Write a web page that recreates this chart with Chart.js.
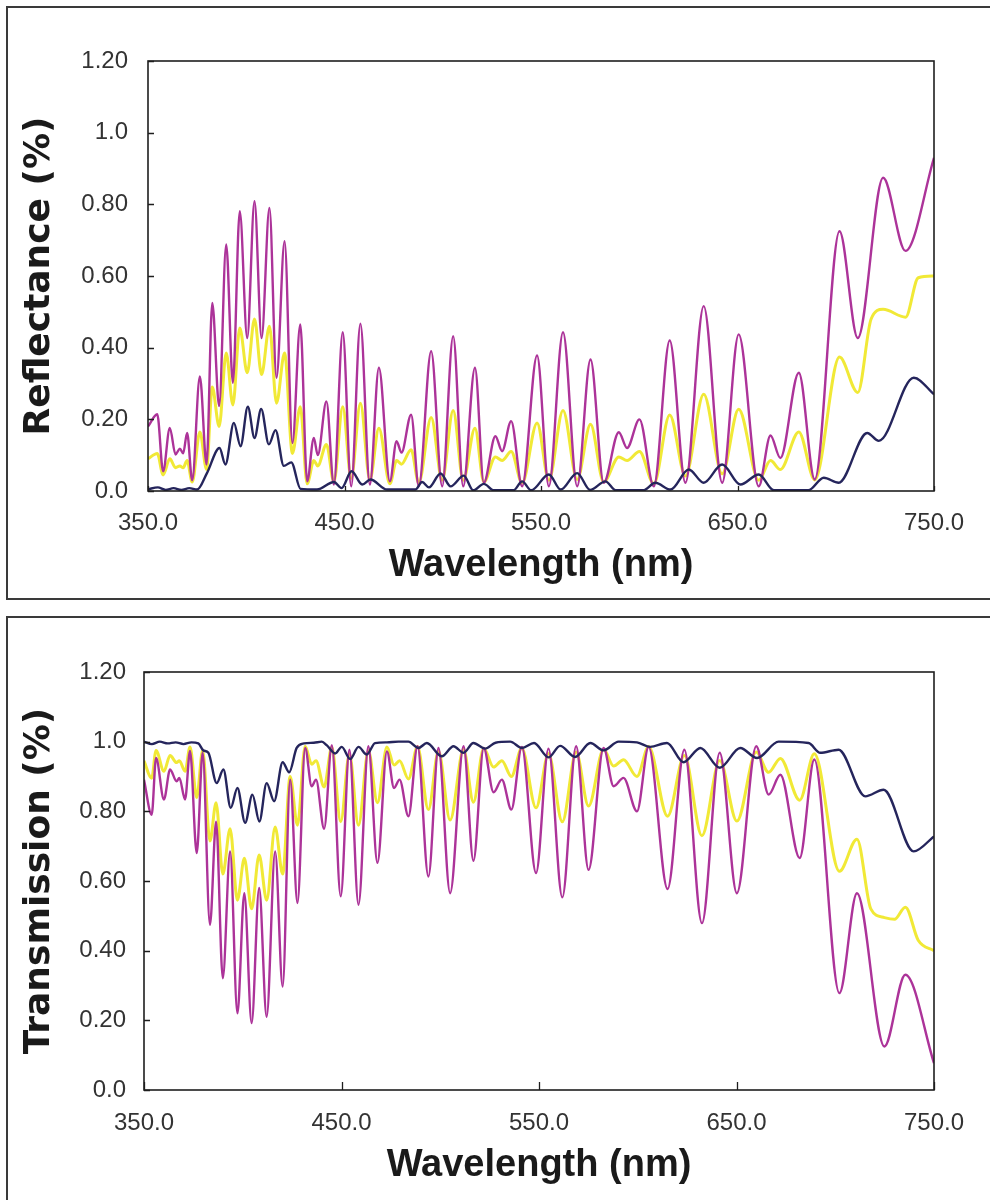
<!DOCTYPE html>
<html>
<head>
<meta charset="utf-8">
<script src="https://cdn.jsdelivr.net/npm/chart.js@4.4.1/dist/chart.umd.min.js"></script>
<style>
  html, body { margin: 0; padding: 0; background: #fff; }
  body { width: 990px; height: 1200px; position: relative; overflow: hidden; }
  .panel { position: absolute; left: 6px; width: 1000px; border: 2px solid #3a3a3a; box-sizing: border-box; }
  #panelR { top: 6px; height: 594px; }
  #panelT { top: 616px; height: 600px; }
  canvas { position: absolute; left: 0; }
  #chartR { top: 0; }
  #chartT { top: 610px; }
</style>
</head>
<body>
<div class="panel" id="panelR"></div>
<div class="panel" id="panelT"></div>
<canvas id="chartR" width="990" height="600"></canvas>
<canvas id="chartT" width="990" height="590"></canvas>
<script>
// ---- Tick labels ----
const X_TICK_LABELS = ['350.0', '450.0', '550.0', '650.0', '750.0'];
const Y_TICK_LABELS = ['0.0', '0.20', '0.40', '0.60', '0.80', '1.0', '1.20'];

// ---- Reflectance: wavelength (nm) and value per series ----
const R_NM_MAGENTA = [350, 354.7, 357.7, 361.1, 364.0, 366.2, 367.9, 369.9, 372.5, 376.4, 379.8, 382.7, 386.2, 389.8, 393.2, 396.7, 400.5, 404.2, 407.8, 411.8, 415.4, 419.5, 423.5, 427.5, 431.0, 434.4, 436.4, 440.8, 444.6, 449.1, 453.4, 458.1, 462.9, 467.5, 473.1, 476.5, 479.0, 483.9, 487.8, 494.1, 499.7, 505.3, 510.4, 516.4, 520.9, 526.8, 530.2, 534.8, 540.4, 548.0, 554.0, 561.2, 568.4, 575.2, 581.9, 589.6, 593.8, 600.1, 607.4, 615.5, 623.5, 632.8, 642.2, 650.6, 660.8, 666.8, 671.8, 681.2, 689.3, 701.9, 711.2, 724.1, 735.5, 750];
const R_MAGENTA = [0.18, 0.214, 0.055, 0.176, 0.102, 0.118, 0.105, 0.162, 0.03, 0.32, 0.074, 0.525, 0.237, 0.688, 0.302, 0.781, 0.427, 0.809, 0.427, 0.79, 0.316, 0.697, 0.134, 0.465, 0.027, 0.148, 0.10, 0.25, 0.018, 0.443, 0.013, 0.467, 0.018, 0.344, 0.027, 0.139, 0.107, 0.213, 0.013, 0.39, 0.013, 0.432, 0.013, 0.344, 0.023, 0.153, 0.111, 0.195, 0.013, 0.378, 0.013, 0.443, 0.013, 0.367, 0.023, 0.164, 0.12, 0.20, 0.013, 0.42, 0.023, 0.516, 0.023, 0.437, 0.013, 0.155, 0.092, 0.33, 0.032, 0.725, 0.427, 0.874, 0.67, 0.93];

const R_NM_YELLOW = [350, 354.7, 357.7, 361.1, 364.0, 366.2, 367.9, 369.9, 372.5, 376.4, 379.8, 382.7, 386.2, 389.8, 393.2, 396.7, 400.5, 404.2, 407.8, 411.8, 415.4, 419.5, 423.5, 427.5, 431.0, 434.4, 436.4, 440.8, 444.6, 449.1, 453.4, 458.1, 462.9, 467.5, 473.1, 476.5, 479.0, 483.9, 487.8, 494.1, 499.7, 505.3, 510.4, 516.4, 520.9, 526.8, 530.2, 534.8, 540.4, 548.0, 554.0, 561.2, 568.4, 575.2, 581.9, 589.6, 593.8, 600.1, 607.4, 615.5, 623.5, 632.8, 642.2, 650.6, 660.8, 666.8, 671.8, 681.2, 689.3, 701.9, 711.2, 718, 724.1, 735.5, 742, 750];
const R_YELLOW = [0.09, 0.105, 0.045, 0.09, 0.065, 0.07, 0.065, 0.085, 0.025, 0.165, 0.06, 0.29, 0.18, 0.385, 0.24, 0.455, 0.33, 0.48, 0.325, 0.46, 0.245, 0.385, 0.105, 0.235, 0.02, 0.085, 0.07, 0.13, 0.025, 0.235, 0.035, 0.245, 0.03, 0.175, 0.02, 0.085, 0.075, 0.115, 0.022, 0.205, 0.03, 0.225, 0.03, 0.175, 0.025, 0.095, 0.085, 0.11, 0.022, 0.19, 0.03, 0.225, 0.032, 0.186, 0.025, 0.095, 0.085, 0.11, 0.02, 0.212, 0.042, 0.27, 0.048, 0.228, 0.03, 0.085, 0.06, 0.165, 0.031, 0.374, 0.275, 0.48, 0.507, 0.485, 0.595, 0.60];

const R_NM_NAVY = [350, 355, 359, 363, 367, 371, 375, 380, 386.4, 389.4, 393.7, 397.1, 400.8, 404.2, 407.6, 411.5, 414.9, 419.1, 422.9, 427.6, 436, 444.6, 448.5, 453.6, 459, 463.2, 471.7, 486, 489.5, 493, 498.9, 504, 510.7, 515.5, 520.9, 526, 536, 540.4, 545, 554, 560, 568.4, 575, 582.8, 588, 602, 608.2, 615.9, 625.2, 632.8, 642.2, 651.5, 660.8, 668.5, 686, 693.9, 701.5, 716, 721.9, 739.7, 750];
const R_NAVY = [0.005, 0.01, 0.003, 0.008, 0.003, 0.008, 0.004, 0.05, 0.12, 0.074, 0.19, 0.125, 0.235, 0.148, 0.229, 0.13, 0.17, 0.07, 0.08, 0.006, 0.004, 0.025, 0.008, 0.055, 0.018, 0.032, 0.004, 0.004, 0.025, 0.01, 0.049, 0.013, 0.043, 0.002, 0.02, 0.002, 0.002, 0.027, 0.002, 0.046, 0.004, 0.05, 0.003, 0.027, 0.002, 0.002, 0.023, 0.004, 0.06, 0.023, 0.074, 0.018, 0.046, 0.002, 0.002, 0.037, 0.023, 0.162, 0.14, 0.316, 0.27];

// ---- Transmission: wavelength (nm) and value per series ----
const T_NM_MAGENTA = [350, 353.9, 356.1, 360.1, 363.2, 366.5, 367.9, 370.8, 373.3, 376.7, 379.7, 383.4, 386.5, 389.9, 393.6, 397.3, 400.8, 404.5, 408.3, 412.1, 416.4, 420.2, 424.0, 427.7, 431.6, 434.9, 437.1, 441.2, 445.1, 449.6, 454.0, 458.6, 463.6, 468.2, 473.0, 476.6, 479.4, 483.9, 488.5, 494.0, 499.1, 505.0, 511.8, 516.8, 522.0, 527.0, 531.2, 536.0, 541.3, 548.5, 554.8, 561.8, 568.8, 575.1, 582.7, 587.8, 592.8, 599.6, 605.5, 615.1, 623.6, 632.5, 641.5, 650.2, 660.0, 666.3, 672.2, 682.0, 689.4, 702.1, 711.0, 724.9, 735.5, 750];
const T_MAGENTA = [0.891, 0.79, 0.953, 0.834, 0.92, 0.886, 0.896, 0.834, 0.973, 0.68, 0.968, 0.474, 0.77, 0.321, 0.685, 0.22, 0.565, 0.192, 0.58, 0.21, 0.685, 0.297, 0.891, 0.537, 0.982, 0.872, 0.891, 0.75, 0.99, 0.556, 0.977, 0.532, 0.987, 0.652, 0.972, 0.867, 0.891, 0.786, 0.987, 0.613, 0.982, 0.565, 0.987, 0.658, 0.982, 0.855, 0.891, 0.805, 0.985, 0.623, 0.98, 0.553, 0.987, 0.632, 0.982, 0.872, 0.896, 0.80, 0.985, 0.577, 0.977, 0.479, 0.968, 0.565, 0.987, 0.848, 0.905, 0.666, 0.949, 0.278, 0.565, 0.125, 0.331, 0.077];

const T_NM_YELLOW = [350, 353.9, 356.1, 360.1, 363.2, 366.5, 367.9, 370.8, 373.3, 376.7, 379.7, 383.4, 386.5, 389.9, 393.6, 397.3, 400.8, 404.5, 408.3, 412.1, 416.4, 420.2, 424.0, 427.7, 431.6, 434.9, 437.1, 441.2, 445.1, 449.6, 454.0, 458.6, 463.6, 468.2, 473.0, 476.6, 479.4, 483.9, 488.5, 494.0, 499.1, 505.0, 511.8, 516.8, 522.0, 527.0, 531.2, 536.0, 541.3, 548.5, 554.8, 561.8, 568.8, 575.1, 582.7, 587.8, 592.8, 599.6, 605.5, 615.1, 623.6, 632.5, 641.5, 650.2, 660.0, 666.3, 672.2, 682.0, 689.4, 702.1, 711.0, 718, 724.9, 730, 735.5, 742, 750];
const T_YELLOW = [0.945, 0.895, 0.975, 0.915, 0.96, 0.94, 0.945, 0.915, 0.985, 0.84, 0.975, 0.715, 0.825, 0.62, 0.75, 0.545, 0.665, 0.52, 0.675, 0.545, 0.755, 0.62, 0.90, 0.76, 0.987, 0.935, 0.945, 0.87, 0.985, 0.77, 0.965, 0.76, 0.975, 0.825, 0.985, 0.933, 0.945, 0.893, 0.986, 0.805, 0.973, 0.775, 0.978, 0.826, 0.981, 0.927, 0.945, 0.90, 0.982, 0.81, 0.966, 0.77, 0.97, 0.815, 0.978, 0.93, 0.948, 0.90, 0.986, 0.786, 0.96, 0.73, 0.946, 0.772, 0.97, 0.912, 0.952, 0.832, 0.965, 0.628, 0.72, 0.52, 0.495, 0.49, 0.525, 0.43, 0.40];

const T_NM_NAVY = [350, 354, 358, 362, 366, 370, 374, 377.5, 380, 382.6, 386.8, 390.2, 393.9, 397.3, 401.2, 404.9, 408.4, 412.1, 415.9, 420.2, 423.5, 427.3, 431, 436, 440, 442.5, 446.8, 450.1, 454.4, 458.6, 462.8, 467, 473, 478.8, 483.9, 489, 493.2, 500.8, 506.7, 511.8, 516.8, 522.7, 528, 535.4, 541.3, 547.5, 554.8, 560.7, 568.3, 576, 582.7, 590.3, 599.6, 606.3, 614.8, 623.2, 631.7, 641.5, 651.9, 660.4, 671.3, 686.5, 692.4, 701.7, 715.2, 724.5, 739.7, 750];
const T_NAVY = [1.0, 0.993, 1.0, 0.995, 0.998, 0.993, 0.998, 0.995, 0.975, 0.968, 0.881, 0.92, 0.81, 0.867, 0.767, 0.848, 0.771, 0.881, 0.829, 0.941, 0.912, 0.982, 0.995, 0.997, 1.0, 0.99, 0.966, 0.985, 0.95, 0.985, 0.963, 0.996, 0.998, 1.0, 1.0, 0.982, 0.996, 0.958, 0.987, 0.968, 0.996, 0.98, 0.997, 1.0, 0.982, 0.996, 0.955, 0.988, 0.956, 0.996, 0.975, 1.0, 0.998, 0.985, 0.996, 0.941, 0.982, 0.925, 0.982, 0.953, 1.0, 0.996, 0.968, 0.977, 0.843, 0.862, 0.685, 0.728];

// ---- Styling ----
const COLOR_MAGENTA = '#ac3399';
const COLOR_YELLOW = '#f1e936';
const COLOR_NAVY = '#25255c';
const TICK_FONT = { family: "'Liberation Sans', Arial, sans-serif", size: 24 };

const toPoints = (xs, ys) => xs.map((x, i) => ({ x, y: ys[i] }));

// Plot frame plus short inward tick marks on the left and bottom axes.
const frameTicks = {
  id: 'frameTicks',
  afterDatasetsDraw(chart, args, opts) {
    const { ctx, chartArea: a, scales: { x, y } } = chart;
    ctx.save();
    ctx.strokeStyle = '#1e1e1e';
    ctx.lineWidth = 1.6;
    ctx.strokeRect(a.left, a.top, a.right - a.left, a.bottom - a.top);
    ctx.beginPath();
    y.ticks.forEach(t => {
      const py = Math.round(y.getPixelForValue(t.value)) + 0.5;
      ctx.moveTo(a.left, py); ctx.lineTo(a.left + opts.yLen, py);
    });
    x.ticks.forEach(t => {
      const px = Math.round(x.getPixelForValue(t.value)) + 0.5;
      ctx.moveTo(px, a.bottom); ctx.lineTo(px, a.bottom - opts.xLen);
    });
    ctx.lineWidth = 1.3;
    ctx.stroke();
    ctx.restore();
  }
};

function buildChart(canvasId, cfg) {
  const line = (data, color, width) => ({
    data, borderColor: color, borderWidth: width, pointRadius: 0,
    cubicInterpolationMode: 'monotone', fill: false
  });
  return new Chart(document.getElementById(canvasId), {
    type: 'line',
    data: {
      datasets: [
        line(cfg.navy, COLOR_NAVY, 2.4),
        line(cfg.magenta, COLOR_MAGENTA, 2.4),
        line(cfg.yellow, COLOR_YELLOW, 3)
      ]
    },
    options: {
      responsive: false,
      animation: false,
      devicePixelRatio: 1,
      events: [],
      layout: { padding: { top: cfg.top, right: cfg.right, left: 0, bottom: 0 } },
      plugins: {
        legend: { display: false },
        tooltip: { enabled: false },
        frameTicks: { xLen: cfg.xTickLen, yLen: 6 }
      },
      scales: {
        x: {
          type: 'linear', min: 350, max: 750,
          grid: { display: false, drawTicks: false }, border: { display: false },
          ticks: {
            stepSize: 100, padding: cfg.xTickPad, color: '#333', font: TICK_FONT,
            callback: v => X_TICK_LABELS[Math.round((v - 350) / 100)]
          },
          title: {
            display: true, text: 'Wavelength (nm)', color: '#1a1a1a',
            font: { family: "'Liberation Sans', Arial, sans-serif", weight: 'bold', size: 38 },
            padding: { top: 0, bottom: 12 }
          },
          afterFit: s => { s.height = cfg.xAxisHeight; }
        },
        y: {
          min: 0, max: 1.2,
          grid: { display: false, drawTicks: false }, border: { display: false },
          ticks: {
            stepSize: 0.2, padding: cfg.yTickPad, color: '#333', font: TICK_FONT,
            callback: (v, i) => Y_TICK_LABELS[i]
          },
          title: {
            display: true, text: cfg.yTitle, color: '#1a1a1a',
            font: { family: "'DejaVu Sans', sans-serif", weight: 'bold', size: 36 },
            padding: { top: 18, bottom: 0 }
          },
          afterFit: s => { s.width = cfg.yAxisWidth; }
        }
      }
    },
    plugins: [frameTicks]
  });
}

buildChart('chartR', {
  yTitle: 'Reflectance (%)',
  magenta: toPoints(R_NM_MAGENTA, R_MAGENTA),
  yellow: toPoints(R_NM_YELLOW, R_YELLOW),
  navy: toPoints(R_NM_NAVY, R_NAVY),
  top: 61, right: 56, yAxisWidth: 148, xAxisHeight: 109,
  xTickPad: 18, yTickPad: 20, xTickLen: 5
});

buildChart('chartT', {
  yTitle: 'Transmission (%)',
  magenta: toPoints(T_NM_MAGENTA, T_MAGENTA),
  yellow: toPoints(T_NM_YELLOW, T_YELLOW),
  navy: toPoints(T_NM_NAVY, T_NAVY),
  top: 62, right: 56, yAxisWidth: 144, xAxisHeight: 110,
  xTickPad: 19, yTickPad: 18, xTickLen: 8
});
</script>
</body>
</html>
